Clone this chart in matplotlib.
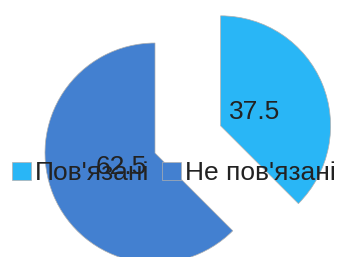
import matplotlib.pyplot as plt

labels = ["Пов'язані", "Не пов'язані"]
values = [37.5, 62.5]
colors = ["#29B6F6", "#4380D0"]

plt.rcParams['font.family'] = ['Liberation Sans', 'DejaVu Sans']

fig = plt.figure(figsize=(3.39, 2.57), dpi=100)
ax = fig.add_axes([0, 0, 1, 1])

# explode is in data units here (axes are in pixels)
wedges, texts, autotexts = ax.pie(values, colors=colors, startangle=90, counterclock=False,
                                  explode=[71, 0], center=(155, 104), radius=110,
                                  autopct=lambda p: "%.1f" % p, pctdistance=0.33,
                                  wedgeprops=dict(edgecolor="#b0b0b0", linewidth=0.5),
                                  textprops=dict(fontsize=19, color="#222222"))

ax.set_xlim(0, 339)
ax.set_ylim(0, 257)
ax.set_aspect("equal")
ax.axis("off")

# legend sits on top of the pie, like in the original
ax.legend(wedges, labels, loc="center", bbox_to_anchor=(174 / 339, 84 / 257),
          ncol=2, frameon=False, fontsize=19, handlelength=0.7, handleheight=0.7,
          handletextpad=0.15, columnspacing=0.5, borderpad=0, labelcolor="#222222")

fig.savefig("out.png", dpi=100)
